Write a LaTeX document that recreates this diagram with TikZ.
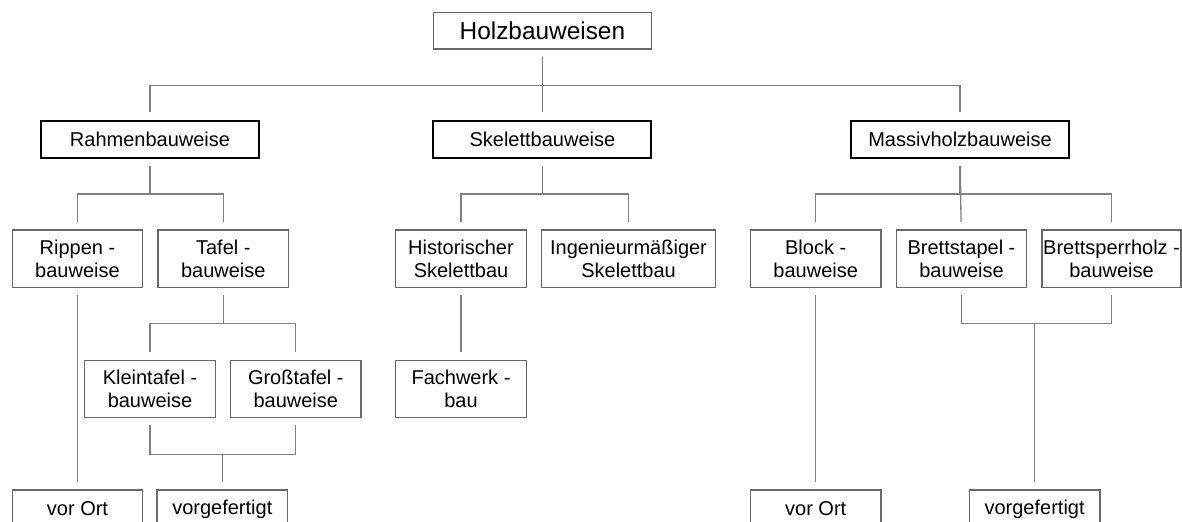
\documentclass[tikz,border=0pt]{standalone}
\usepackage{fontspec}
\setmainfont{Liberation Sans}
\usepackage{tikz}
\usetikzlibrary{positioning}
\usepackage{xcolor}
\definecolor{linegray}{RGB}{128,128,128}
\definecolor{boxgray}{RGB}{105,105,105}
\tikzstyle{link} = [draw=linegray, line width=0.65pt, shorten <=3.5pt, shorten >=3.75pt]

\begin{document}
\begin{tikzpicture}[
    x=0.5pt, y=-0.5pt,
    top-box/.style={draw=boxgray, line width=0.65pt, minimum width=108.8pt, minimum height=18.15pt, inner sep=0pt, font=\fontsize{12.2}{14}\selectfont},
    main-box/.style={draw=black, line width=1pt, minimum width=109pt, minimum height=18.5pt, inner sep=0pt, font=\fontsize{10}{12}\selectfont},
    sub-box/.style={draw=boxgray, line width=0.65pt, minimum width=65.25pt, minimum height=28.75pt, inner sep=0pt, align=center, font=\fontsize{10}{11.8}\selectfont},
    end-box/.style={sub-box, minimum height=19pt},
    node distance=7pt
  ]

  \useasboundingbox (0,0) rectangle (1182,522);
  \clip (0,0) rectangle (1182,522);

  \node[top-box] (holz) at (542.4,30.9) {Holzbauweisen};

  \node[main-box] (rahmen) at (150,139.5) {Rahmenbauweise};
  \node[main-box] (skel) at (542.4,139.5) {Skelettbauweise};
  \node[main-box] (massiv) at (960,139.5) {Massivholzbauweise};

  \node[sub-box] (rippen) at (77.5,258.75) {Rippen -\\bauweise};
  \node[sub-box, right=of rippen] (tafel) {Tafel -\\bauweise};
  \node[sub-box] (hist) at (461,258.75) {Historischer\\Skelettbau};
  \node[sub-box, right=of hist, minimum width=87pt] (ing) {Ingenieurmäßiger\\Skelettbau};
  \node[sub-box] (block) at (815.7,258.75) {Block -\\bauweise};
  \node[sub-box, right=of block] (bstap) {Brettstapel -\\bauweise};
  \node[sub-box, right=of bstap, minimum width=69.5pt] (bsperr) {Brettsperrholz -\\bauweise};

  \node[sub-box] (klein) at (150,389) {Kleintafel -\\bauweise};
  \node[sub-box, right=of klein] (gross) {Großtafel -\\bauweise};
  \node[sub-box] (fach) at (461,389) {Fachwerk -\\bau};

  \node[end-box] (ort1) at (77.5,509) {vor Ort};
  \node[end-box] (fert1) at (222.3,509) {vorgefertigt};
  \node[end-box] (ort2) at (815.7,509) {vor Ort};
  \node[end-box] (fert2) at (1034.6,509) {vorgefertigt};

  \draw[link] (holz.south) -- ++(0,36) -| (rahmen.north);
  \draw[link] (holz.south) -- ++(0,36) -| (massiv.north);
  \draw[link] (holz) -- (skel);

  \draw[link] (rahmen.south) -- ++(0,35) -| (rippen.north);
  \draw[link] (rahmen.south) -- ++(0,35) -| (tafel.north);
  \draw[link] (skel.south) -- ++(0,35) -| (hist.north);
  \draw[link] (skel.south) -- ++(0,35) -| (ing.north);
  \draw[link] (massiv.south) -- ++(0,35) -| (block.north);
  \draw[link] (massiv.south) -- ++(0,35) -| (bsperr.north);
  \draw[link] (massiv) -- (bstap);

  \draw[link] (tafel.south) -- ++(0,35.5) -| (klein.north);
  \draw[link] (tafel.south) -- ++(0,35.5) -| (gross.north);
  \draw[link] (hist) -- (fach);

  \draw[link] (rippen) -- (ort1);
  \draw[link] (klein.south) -- ++(0,36) -| (fert1.north);
  \draw[link] (gross.south) -- ++(0,36) -| (fert1.north);
  \draw[link] (block) -- (ort2);
  \draw[link] (bstap.south) -- ++(0,35.5) -| (fert2.north);
  \draw[link] (bsperr.south) -- ++(0,35.5) -| (fert2.north);

\end{tikzpicture}
\end{document}
